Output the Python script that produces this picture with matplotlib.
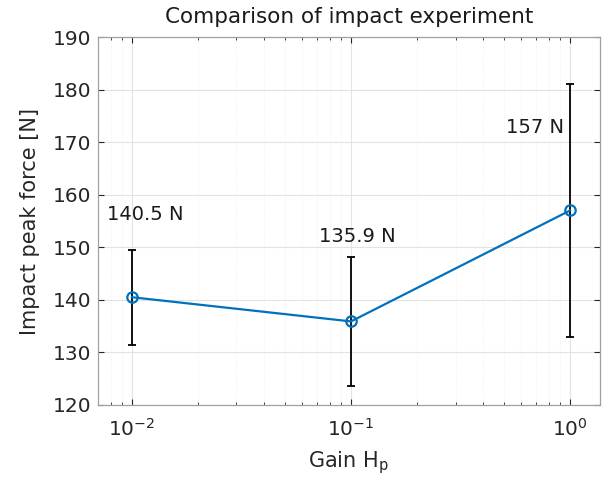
import matplotlib.pyplot as plt
import numpy as np
from matplotlib.ticker import LogLocator, NullFormatter

# dados
gains = [0.01, 0.1, 1.0]
peak_force = [140.5, 135.9, 157.0]
force_err = [9.0, 12.2, 24.0]

plt.rcParams['font.family'] = ['DejaVu Sans']

fig = plt.figure(figsize=(6.16, 4.83), dpi=100)
ax = fig.add_axes([98 / 616, 1 - 405 / 483, 502 / 616, 368 / 483])

ax.errorbar(gains, peak_force, yerr=force_err, fmt='none', ecolor='black',
            elinewidth=1.3, capsize=2.7, capthick=1.3, zorder=2)
ax.plot(gains, peak_force, color='#0072BD', linewidth=1.6, marker='o',
        markersize=7.5, markerfacecolor='none', markeredgewidth=1.6, zorder=3)

# rótulos de texto com os valores
label_pos = [(0.0077, 156.3), (0.1065, 152.0), (0.94, 172.8)]
aligns = ['left', 'center', 'right']
for v, (tx, ty), ha in zip(peak_force, label_pos, aligns):
    ax.text(tx, ty, f'{v:g} N', ha=ha, va='center', fontsize=14, color='#1a1a1a')

ax.set_xscale('log')
ax.set_xlim(0.007, 1.37)
ax.set_ylim(120, 190)
ax.set_yticks(np.arange(120, 191, 10))
ax.set_xticks([0.01, 0.1, 1.0])
ax.set_xticklabels([r'$\mathregular{10^{-2}}$', r'$\mathregular{10^{-1}}$', r'$\mathregular{10^{0}}$'])
ax.xaxis.set_minor_locator(LogLocator(base=10, subs=np.arange(2, 10)))
ax.xaxis.set_minor_formatter(NullFormatter())

ax.grid(True, which='major', color='#e3e3e3', linewidth=0.8)
ax.grid(True, which='minor', axis='x', color='#ececec', linewidth=0.6, linestyle=':')
ax.set_axisbelow(True)

ax.tick_params(which='both', direction='in', top=True, right=True,
               colors='#262626', labelsize=14.5, length=4)
ax.tick_params(axis='x', pad=9)
ax.tick_params(axis='y', pad=5)
ax.tick_params(which='minor', length=2.5)
for s in ax.spines.values():
    s.set_color('#a0a0a0')
    s.set_linewidth(0.9)

ax.set_title('Comparison of impact experiment', fontsize=15.5, color='#1a1a1a', pad=10)
ax.set_xlabel(r'Gain H$_\mathregular{p}$', fontsize=15, color='#262626', labelpad=7)
ax.set_ylabel('Impact peak force [N]', fontsize=15, color='#262626', labelpad=9)

fig.savefig('out.png', dpi=100)
